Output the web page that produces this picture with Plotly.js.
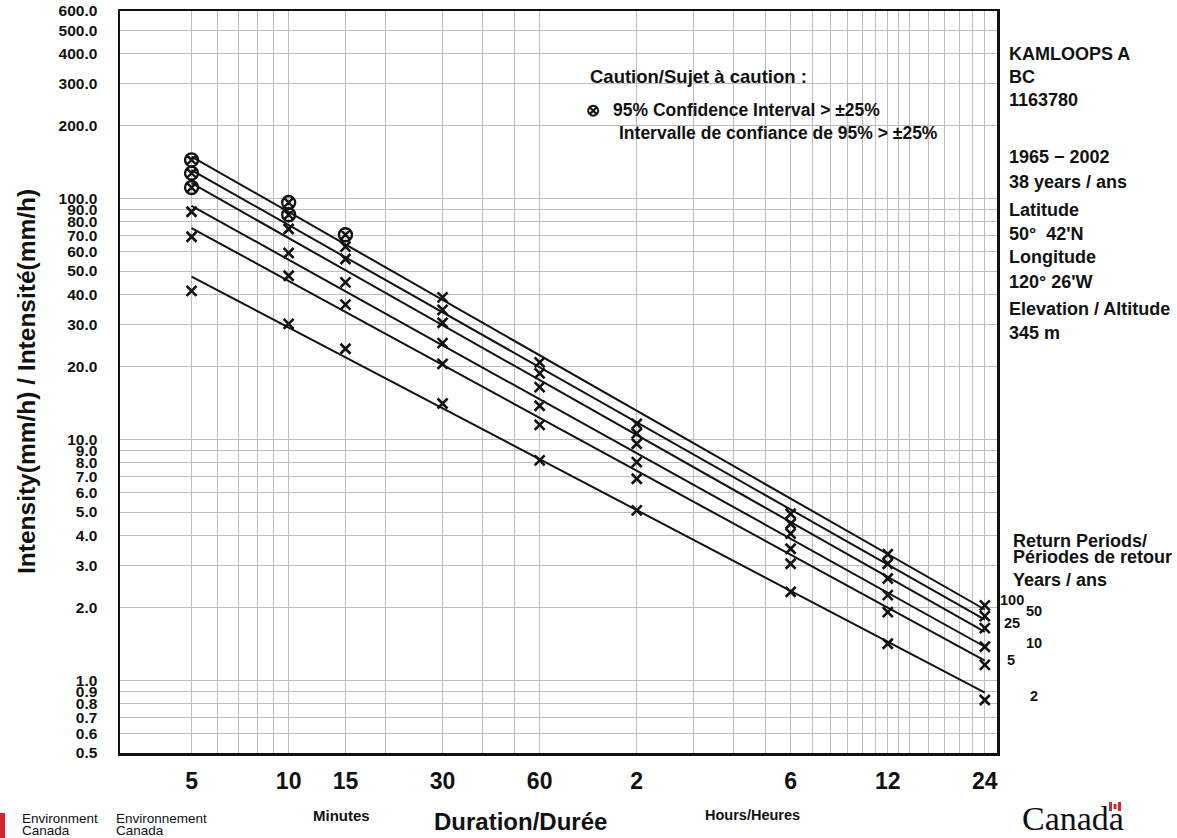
<!DOCTYPE html>
<html>
<head>
<meta charset="utf-8">
<script src="https://cdn.plot.ly/plotly-3.0.1.min.js"></script>
<style>html,body{margin:0;padding:0;background:#fff;}#chart{width:1177px;height:838px;}</style>
</head>
<body>
<div id="chart"></div>
<script>
// ---- Data ----
const durations = [5, 10, 15, 30, 60, 120, 360, 720, 1440];          // minutes
const xTickText = ["5", "10", "15", "30", "60", "2", "6", "12", "24"];
const xMinorGrid = [6, 7, 8, 9, 20, 40, 50, 180, 240, 300, 420, 480, 540, 600, 660, 780, 840, 960, 1080, 1200, 1320];
const yTickVals = [0.5, 0.6, 0.7, 0.8, 0.9, 1, 2, 3, 4, 5, 6, 7, 8, 9, 10, 20, 30, 40, 50, 60, 70, 80, 90, 100, 200, 300, 400, 500, 600];

const returnPeriods = ["2", "5", "10", "25", "50", "100"];
const intensity2   = [41.4, 30.2, 23.8, 14.1,  8.19, 5.08, 2.33, 1.42, 0.83];
const intensity5   = [69.4, 47.8, 36.3, 20.6, 11.5,  6.87, 3.05, 1.92, 1.16];
const intensity10  = [88.1, 59.4, 44.9, 25.1, 13.8,  8.05, 3.52, 2.26, 1.38];
const intensity25  = [111.1, 74.7, 56.1, 30.5, 16.5, 9.6,  4.07, 2.65, 1.65];
const intensity50  = [127.4, 85.6, 63.1, 34.5, 18.8, 10.6, 4.47, 3.05, 1.85];
const intensity100 = [144.6, 96.2, 70.7, 38.9, 20.9, 11.6, 4.92, 3.34, 2.05];

// durations where the 95% confidence interval exceeds ±25%
const caution2 = [], caution5 = [], caution10 = [];
const caution25 = [5], caution50 = [5, 10], caution100 = [5, 10, 15];

// fitted lines: intensity at 5 min and at 24 h
const fitDurations = [5, 1440];
const fit2   = [47.4, 0.89];
const fit5   = [75.4, 1.21];
const fit10  = [93.3, 1.38];
const fit25  = [115.8, 1.59];
const fit50  = [131.2, 1.79];
const fit100 = [149.3, 1.97];

const seriesList = [
  {rp: "2",   y: intensity2,   c: caution2,   fit: fit2},
  {rp: "5",   y: intensity5,   c: caution5,   fit: fit5},
  {rp: "10",  y: intensity10,  c: caution10,  fit: fit10},
  {rp: "25",  y: intensity25,  c: caution25,  fit: fit25},
  {rp: "50",  y: intensity50,  c: caution50,  fit: fit50},
  {rp: "100", y: intensity100, c: caution100, fit: fit100}
];

const traces = [];
seriesList.forEach(s => {
  traces.push({
    type: "scatter", mode: "lines", x: fitDurations, y: s.fit,
    line: {color: "#111", width: 2}, hoverinfo: "skip", name: s.rp + " fit"
  });
  const plainX = [], plainY = [], cX = [], cY = [];
  durations.forEach((d, i) => {
    if (s.c.indexOf(d) >= 0) { cX.push(d); cY.push(s.y[i]); }
    else { plainX.push(d); plainY.push(s.y[i]); }
  });
  traces.push({
    type: "scatter", mode: "markers", x: plainX, y: plainY, name: s.rp,
    marker: {symbol: "x-thin-open", size: 10, color: "#111", line: {color: "#111", width: 2.6}}
  });
  if (cX.length) {
    traces.push({
      type: "scatter", mode: "markers", x: cX, y: cY, name: s.rp + " caution",
      marker: {symbol: "circle-x-open", size: 13, color: "#111", line: {color: "#111", width: 2.4}}
    });
  }
});

// layout helpers (pixel -> paper)
const PL = 120, PR = 997, PT = 11, PB = 753;
const X = px => (px - PL) / (PR - PL);
const Y = py => (PB - py) / (PB - PT);
const FONT = "Liberation Sans, Arial, Helvetica, sans-serif";

function ann(text, px, py, size, opts) {
  return Object.assign({
    xref: "paper", yref: "paper", x: X(px), y: Y(py), text: text,
    showarrow: false, xanchor: "left", yanchor: "middle",
    font: {family: FONT, size: size, color: "#111"}
  }, opts || {});
}

const annotations = [
  ann("<b>Caution/Sujet à caution :</b>", 588, 76, 18.5),
  ann("<b>⊗</b>", 584, 110, 17),
  ann("<b>95% Confidence Interval > ±25%</b>", 611, 110, 17.5),
  ann("<b>Intervalle de confiance de 95% > ±25%</b>", 617, 133, 17.5),

  ann("<b>KAMLOOPS A</b>", 1007, 54, 18),
  ann("<b>BC</b>", 1007, 77, 18),
  ann("<b>1163780</b>", 1007, 100, 18),
  ann("<b>1965 − 2002</b>", 1007, 157, 18),
  ann("<b>38 years / ans</b>", 1007, 182, 18),
  ann("<b>Latitude</b>", 1007, 210, 18),
  ann("<b>50°  42'N</b>", 1007, 234, 18),
  ann("<b>Longitude</b>", 1007, 257, 18),
  ann("<b>120° 26'W</b>", 1007, 282, 18),
  ann("<b>Elevation / Altitude</b>", 1007, 309, 18),
  ann("<b>345 m</b>", 1007, 333, 18),

  ann("<b>Return Periods/</b>", 1011, 541, 18),
  ann("<b>Périodes de retour</b>", 1011, 557, 18),
  ann("<b>Years / ans</b>", 1011, 580, 18),

  ann("<b>100</b>", 1012, 600, 14.5, {xanchor: "center"}),
  ann("<b>50</b>", 1034, 611, 14.5, {xanchor: "center"}),
  ann("<b>25</b>", 1012, 623, 14.5, {xanchor: "center"}),
  ann("<b>10</b>", 1034, 643, 14.5, {xanchor: "center"}),
  ann("<b>5</b>", 1011, 660, 14.5, {xanchor: "center"}),
  ann("<b>2</b>", 1034, 696, 14.5, {xanchor: "center"}),

  ann("<b>Intensity(mm/h) / Intensité(mm/h)</b>", 26, 382, 24.5, {xanchor: "center", textangle: -90}),
  ann("<b>Duration/Durée</b>", 520, 822, 24, {xanchor: "center"}),
  ann("<b>Minutes</b>", 341, 815, 15, {xanchor: "center"}),
  ann("<b>Hours/Heures</b>", 752, 815, 14.5, {xanchor: "center"}),

  ann("Environment", 20, 818, 13.5),
  ann("Canada", 20, 830, 13.5),
  ann("Environnement", 114, 818, 13.5),
  ann("Canada", 114, 830, 13.5),
  ann("Canada", 1020, 819, 34, {font: {family: "Liberation Serif, DejaVu Serif, serif", size: 34, color: "#111"}})
];

const red = "#d9262e";
const shapes = [
  {type: "rect", xref: "paper", yref: "paper", x0: X(0), x1: X(5), y0: Y(838), y1: Y(813), fillcolor: red, line: {width: 0}},
  {type: "rect", xref: "paper", yref: "paper", x0: X(1109), x1: X(1112), y0: Y(811), y1: Y(802), fillcolor: red, line: {width: 0}},
  {type: "rect", xref: "paper", yref: "paper", x0: X(1113.5), x1: X(1116.5), y0: Y(809), y1: Y(804), fillcolor: red, line: {width: 0}},
  {type: "rect", xref: "paper", yref: "paper", x0: X(1118), x1: X(1121), y0: Y(811), y1: Y(802), fillcolor: red, line: {width: 0}}
];

const layout = {
  width: 1177, height: 838,
  margin: {l: PL, r: 1177 - PR, t: PT, b: 838 - PB, pad: 0},
  paper_bgcolor: "#ffffff", plot_bgcolor: "#ffffff",
  showlegend: false,
  font: {family: FONT, color: "#111"},
  xaxis: {
    type: "log", range: [Math.log10(3), 3.196],
    tickmode: "array", tickvals: durations, ticktext: xTickText,
    tickfont: {family: FONT, size: 23, weight: "bold", color: "#111"},
    ticks: "", ticklabelstandoff: 6,
    showgrid: true, gridcolor: "#bdbdbd", gridwidth: 1,
    minor: {tickmode: "array", tickvals: xMinorGrid, showgrid: true, gridcolor: "#bdbdbd", gridwidth: 1, ticks: ""},
    showline: true, linecolor: "#111", linewidth: 2.5, mirror: true, zeroline: false,
    fixedrange: true
  },
  yaxis: {
    type: "log", range: [Math.log10(0.5), Math.log10(600)],
    tickmode: "array", tickvals: yTickVals, ticktext: yTickVals.map(v => v.toFixed(1)),
    tickfont: {family: FONT, size: 15.5, weight: "bold", color: "#111"},
    ticks: "", ticklabelstandoff: 17,
    showgrid: true, gridcolor: "#bdbdbd", gridwidth: 1,
    showline: true, linecolor: "#111", linewidth: 2.5, mirror: true, zeroline: false,
    fixedrange: true
  },
  annotations: annotations,
  shapes: shapes
};

Plotly.newPlot("chart", traces, layout, {displayModeBar: false, staticPlot: true});
</script>
</body>
</html>
